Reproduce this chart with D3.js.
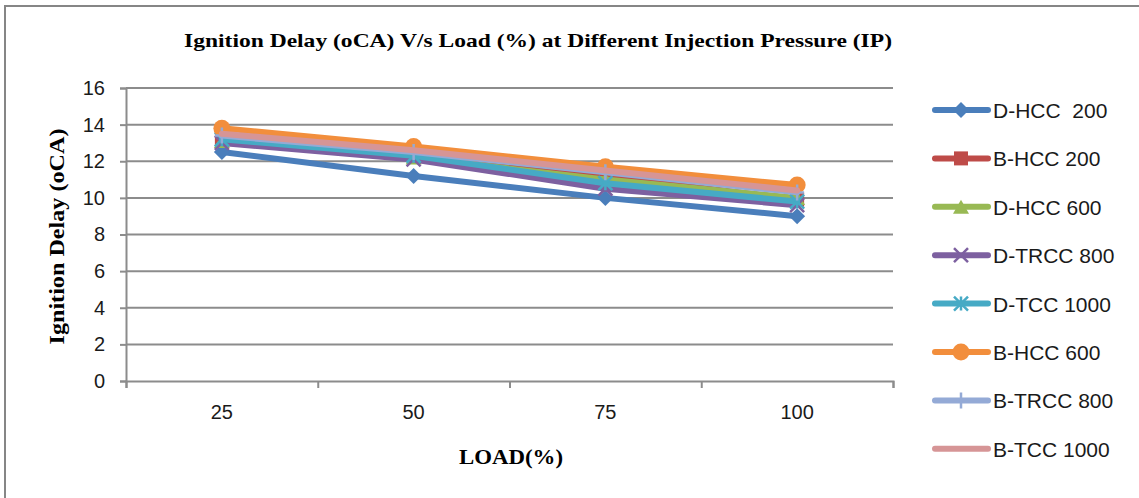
<!DOCTYPE html>
<html>
<head>
<meta charset="utf-8">
<script src="https://cdn.jsdelivr.net/npm/d3@7"></script>
<style>
  html, body { margin: 0; padding: 0; background: #fff; }
  svg { display: block; }
</style>
</head>
<body>
<svg id="chart" width="1139" height="498"></svg>
<script>
// Load levels on the x axis
const loads = ["25", "50", "75", "100"];
const yTicks = [0, 2, 4, 6, 8, 10, 12, 14, 16];

// Ignition delay (oCA) for each configuration
const seriesNames = ["D-HCC  200", "B-HCC 200", "D-HCC 600", "D-TRCC 800", "D-TCC 1000", "B-HCC 600", "B-TRCC 800", "B-TCC 1000"];
const dHcc200   = [12.5, 11.2, 10.0, 9.0];
const bHcc200   = [13.2, 12.4, 11.2, 9.9];
const dHcc600   = [13.1, 12.2, 11.0, 10.0];
const dTrcc800  = [13.0, 12.1, 10.5, 9.6];
const dTcc1000  = [13.2, 12.3, 10.8, 9.8];
const bHcc600   = [13.8, 12.8, 11.7, 10.7];
const bTrcc800  = [13.4, 12.5, 11.4, 10.3];
const bTcc1000  = [13.5, 12.6, 11.5, 10.4];

const seriesValues = [dHcc200, bHcc200, dHcc600, dTrcc800, dTcc1000, bHcc600, bTrcc800, bTcc1000];
const colors = ["#4a7ebb", "#be4b48", "#98b954", "#7d60a0", "#46aac5", "#f28e3c", "#94aad6", "#d69596"];
const markers = ["diamond", "square", "triangle", "x", "asterisk", "circle", "plus", "none"];

const svg = d3.select("#chart");

// outer frame of the chart object
svg.append("rect")
  .attr("x", 5).attr("y", 6)
  .attr("width", 1140).attr("height", 500)
  .attr("fill", "#fff")
  .attr("stroke", "#868686").attr("stroke-width", 2);

const plot = { left: 126, right: 893, top: 88, bottom: 381 };

const x = d3.scaleBand().domain(loads).range([plot.left, plot.right]).padding(0);
const y = d3.scaleLinear().domain([0, 16]).range([plot.bottom, plot.top]);

// horizontal gridlines
svg.append("g")
  .selectAll("line")
  .data(yTicks.filter(d => d > 0))
  .join("line")
  .attr("x1", plot.left).attr("x2", plot.right)
  .attr("y1", d => y(d)).attr("y2", d => y(d))
  .attr("stroke", "#8c8c8c").attr("stroke-width", 2);

// y axis
const yAxis = svg.append("g")
  .attr("transform", `translate(${plot.left},0)`)
  .call(d3.axisLeft(y).tickValues(yTicks).tickSize(6).tickPadding(15).tickFormat(d3.format("d")));
yAxis.select(".domain").attr("stroke", "#8c8c8c").attr("stroke-width", 2);
yAxis.selectAll(".tick line").attr("stroke", "#8c8c8c").attr("stroke-width", 2);
yAxis.selectAll(".tick text")
  .attr("font-family", "Liberation Sans, Arial, sans-serif")
  .attr("font-size", 20).attr("fill", "#1a1a1a");

// x axis: boundary ticks between categories
const xEdge = d3.scaleLinear().domain([0, loads.length]).range([plot.left, plot.right]);
const xTickAxis = svg.append("g")
  .attr("transform", `translate(0,${plot.bottom})`)
  .call(d3.axisBottom(xEdge).tickValues(d3.range(loads.length + 1)).tickSize(7).tickFormat(""));
xTickAxis.select(".domain").attr("stroke", "#8c8c8c").attr("stroke-width", 2);
xTickAxis.selectAll(".tick line").attr("stroke", "#8c8c8c").attr("stroke-width", 2);

// x axis: category labels
const xLabelAxis = svg.append("g")
  .attr("transform", `translate(0,${plot.bottom})`)
  .call(d3.axisBottom(x).tickSize(0).tickPadding(24));
xLabelAxis.select(".domain").remove();
xLabelAxis.selectAll(".tick text")
  .attr("font-family", "Liberation Sans, Arial, sans-serif")
  .attr("font-size", 20).attr("fill", "#1a1a1a");

// titles
svg.append("text")
  .attr("x", 538).attr("y", 47)
  .attr("text-anchor", "middle")
  .attr("font-family", "Liberation Serif, Times New Roman, serif")
  .attr("font-weight", "bold").attr("font-size", 19)
  .attr("textLength", 708).attr("lengthAdjust", "spacingAndGlyphs")
  .text("Ignition Delay (oCA) V/s Load (%) at Different Injection Pressure (IP)");

svg.append("text")
  .attr("transform", `translate(64,${(plot.top + plot.bottom) / 2 + 2}) rotate(-90)`)
  .attr("text-anchor", "middle")
  .attr("font-family", "Liberation Serif, Times New Roman, serif")
  .attr("font-weight", "bold").attr("font-size", 20)
  .attr("textLength", 216).attr("lengthAdjust", "spacingAndGlyphs")
  .text("Ignition Delay (oCA)");

svg.append("text")
  .attr("x", 511).attr("y", 464)
  .attr("text-anchor", "middle")
  .attr("font-family", "Liberation Serif, Times New Roman, serif")
  .attr("font-weight", "bold").attr("font-size", 20)
  .attr("textLength", 104).attr("lengthAdjust", "spacingAndGlyphs")
  .text("LOAD(%)");

// marker drawing
function drawMarker(g, kind, color) {
  const s = 7;
  if (kind === "diamond") {
    g.append("path").attr("d", `M0,${-s-1}L${s+1},0L0,${s+1}L${-s-1},0Z`).attr("fill", color);
  } else if (kind === "square") {
    g.append("rect").attr("x", -s).attr("y", -s).attr("width", 2 * s).attr("height", 2 * s).attr("fill", color);
  } else if (kind === "triangle") {
    g.append("path").attr("d", `M0,${-s}L${s+1},${s}L${-s-1},${s}Z`).attr("fill", color);
  } else if (kind === "circle") {
    g.append("circle").attr("r", 8.5).attr("fill", color);
  } else if (kind === "x") {
    g.append("path").attr("d", `M${-s},${-s}L${s},${s}M${-s},${s}L${s},${-s}`)
      .attr("stroke", color).attr("stroke-width", 2.5).attr("fill", "none");
  } else if (kind === "asterisk") {
    g.append("path").attr("d", `M${-s},${-s}L${s},${s}M${-s},${s}L${s},${-s}M0,${-s}L0,${s}`)
      .attr("stroke", color).attr("stroke-width", 2.5).attr("fill", "none");
  } else if (kind === "plus") {
    g.append("path").attr("d", `M0,${-s-1}L0,${s+1}M${-s},0L${s},0`)
      .attr("stroke", color).attr("stroke-width", 2.5).attr("fill", "none");
  }
}

const line = d3.line()
  .x((d, i) => x(loads[i]) + x.bandwidth() / 2)
  .y(d => y(d));

// series lines and markers
seriesValues.forEach((vals, k) => {
  const g = svg.append("g");
  g.append("path")
    .attr("d", line(vals))
    .attr("fill", "none")
    .attr("stroke", colors[k])
    .attr("stroke-width", 6)
    .attr("stroke-linejoin", "round")
    .attr("stroke-linecap", "round");
  vals.forEach((v, i) => {
    const mg = g.append("g")
      .attr("transform", `translate(${x(loads[i]) + x.bandwidth() / 2},${y(v)})`);
    drawMarker(mg, markers[k], colors[k]);
  });
});

// legend
const legend = svg.append("g");
seriesNames.forEach((name, k) => {
  const ly = 110 + k * 48.4;
  const item = legend.append("g").attr("transform", `translate(0,${ly})`);
  item.append("line")
    .attr("x1", 935).attr("x2", 988)
    .attr("y1", 0).attr("y2", 0)
    .attr("stroke", colors[k]).attr("stroke-width", 6)
    .attr("stroke-linecap", "round");
  const mg = item.append("g").attr("transform", "translate(961,0)");
  drawMarker(mg, markers[k], colors[k]);
  item.append("text")
    .attr("x", 993).attr("y", 8)
    .attr("font-family", "Liberation Sans, Arial, sans-serif")
    .attr("font-size", 21).attr("fill", "#1a1a1a")
    .attr("xml:space", "preserve")
    .style("white-space", "pre")
    .text(name);
});
</script>
</body>
</html>
